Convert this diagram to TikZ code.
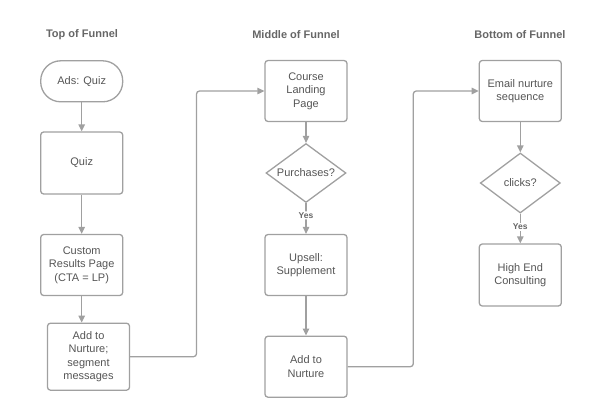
\documentclass[tikz,border=0pt]{standalone}
\usepackage{fontspec}
\setmainfont{Liberation Sans}
\usetikzlibrary{arrows.meta,shapes.geometric}
\definecolor{lineGray}{HTML}{A0A0A0}
\definecolor{textGray}{HTML}{555555}
\definecolor{headGray}{HTML}{666666}

\begin{document}
\begin{tikzpicture}[x=1pt,y=-1pt,
  stage/.style={font=\fontsize{11}{13.3}\selectfont\bfseries, text=headGray},
  box/.style={draw=lineGray, line width=1.3pt, rounded corners=3pt, minimum width=82pt,
    text=textGray, align=center, font=\fontsize{11}{13.3}\selectfont},
  terminal/.style={box, rounded corners=20pt, minimum height=41pt},
  choice/.style={draw=lineGray, line width=1.3pt, diamond, aspect=1.35, inner sep=0pt,
    minimum width=80pt, minimum height=59pt, text=textGray, font=\fontsize{11}{13.3}\selectfont},
  flow/.style={draw=lineGray, line width=1.3pt, rounded corners=3pt,
    -{Triangle[length=7pt,width=6.5pt]}},
  yes/.style={fill=white, inner sep=1pt, text=headGray, font=\fontsize{8.5}{10}\selectfont\bfseries}]
  \useasboundingbox (0,0) rectangle (602,418);

  % Column headings
  \node[stage] (topHead) at (82,35) {Top of Funnel};
  \node[stage] (midHead) at (296,35) {Middle of Funnel};
  \node[stage] (botHead) at (520,35) {Bottom of Funnel};

  % Top of funnel
  \node[terminal] (ads) at (81.7,81.3) {Ads: Quiz};
  \node[box, minimum height=62pt] (quiz) at (81.7,163) {Quiz};
  \node[box, minimum height=61pt] (results) at (81.7,265) {Custom\\Results Page\\(CTA = LP)};
  \node[box, minimum height=67pt] (nurtureA) at (88.5,356.7) {Add to\\Nurture;\\segment\\messages};

  % Middle of funnel
  \node[box, minimum height=61pt] (landing) at (306,91) {Course\\Landing\\Page};
  \node[choice] (buys) at (306,173) {Purchases?};
  \node[box, minimum height=61pt] (upsell) at (306,265) {Upsell:\\Supplement};
  \node[box, minimum height=61pt] (nurtureB) at (306,366.7) {Add to\\Nurture};

  % Bottom of funnel
  \node[box, minimum height=61pt] (email) at (520.3,91) {Email nurture\\sequence};
  \node[choice, minimum height=60pt] (clicks) at (520.3,183) {clicks?};
  \node[box, minimum height=62pt] (consult) at (520.3,275) {High End\\Consulting};

  % Bends of the long connectors
  \coordinate (bendA) at (196.5,91);
  \coordinate (bendB) at (413.3,91);

  % Connectors
  \draw[flow] (ads) -- (quiz);
  \draw[flow] (quiz) -- (results);
  \draw[flow] (results.south) -- (results.south |- nurtureA.north);
  \draw[flow] (nurtureA.east) -| (bendA) -- (landing.west);
  \draw[flow] (landing) -- (buys);
  \draw[flow] (buys) -- node[yes, pos=0.4] {Yes} (upsell);
  \draw[flow] (upsell) -- (nurtureB);
  \draw[flow] (nurtureB.east) -| (bendB) -- (email.west);
  \draw[flow] (email) -- (clicks);
  \draw[flow] (clicks) -- node[yes, pos=0.45] {Yes} (consult);
\end{tikzpicture}
\end{document}
